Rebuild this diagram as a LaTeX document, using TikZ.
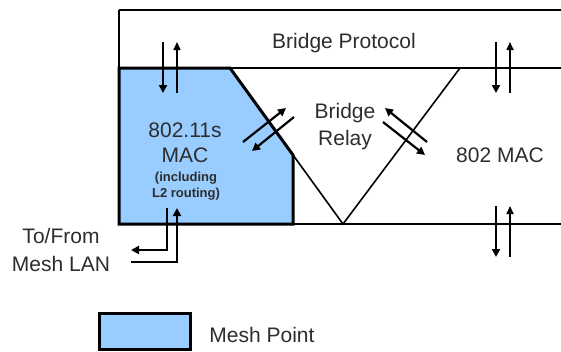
\documentclass[tikz,border=0pt]{standalone}
\usepackage{fontspec}
\setmainfont{Liberation Sans}
\usetikzlibrary{arrows.meta}
\definecolor{MeshBlue}{RGB}{153,204,255}
\definecolor{TextGray}{RGB}{45,45,45}
\tikzset{
  layer/.style={line width=1.6pt},
  meshline/.style={line width=3pt},
  dnar/.style={-{Triangle[length=8pt,width=8pt]}, line width=2.2pt},
  upar/.style={-{Triangle[length=8pt,width=7pt]}, line width=1.6pt},
  lbl/.style={anchor=base, inner sep=0pt, text=TextGray, font=\fontsize{21}{25}\selectfont},
  smalllbl/.style={anchor=base, inner sep=0pt, text=TextGray, font=\fontsize{13}{15}\selectfont\bfseries}
}

\begin{document}
\begin{tikzpicture}[x=1pt,y=-1pt]
  \useasboundingbox (0,0) rectangle (561,351);
  % mesh point part of the MAC layer
  \fill[MeshBlue] (119,68) -- (230,68) -- (293,155) -- (293,224) -- (119,224) -- cycle;
  % layers
  \draw[layer] (119,10) -- (561,10);
  \draw[layer] (119,68) -- (561,68);
  \draw[layer] (119,224) -- (561,224);
  \draw[layer] (119,10) -- (119,224);
  \draw[layer] (230,68) -- (343,224) -- (460,68);
  \draw[meshline] (119,68) -- (230,68) -- (293,155) -- (293,224) -- (119,224) -- cycle;

  % labels
  \node[lbl] (bproto) at (344,48) {Bridge Protocol};
  \node[lbl] (meshmac) at (185,137) {802.11s};
  \node[lbl] (meshmac2) at (185,162) {MAC};
  \node[smalllbl] (incl) at (186,181) {(including};
  \node[smalllbl] (incl2) at (186,197) {L2 routing)};
  \node[lbl] (relay) at (345,118) {Bridge};
  \node[lbl] (relay2) at (345,145) {Relay};
  \node[lbl] (mac) at (500,162) {802 MAC};
  \node[lbl] (lan) at (61,243) {To/From};
  \node[lbl] (lan2) at (61,271) {Mesh LAN};

  % vertical arrow pairs
  \coordinate (bpl) at (170,68);
  \coordinate (bpr) at (503,68);
  \coordinate (lanr) at (503,232);
  \foreach \c in {bpl,bpr,lanr} {
    \draw[dnar] (\c) ++(-7,-26) -- ++(0,51);
    \draw[upar] (\c) ++(7,25) -- ++(0,-51);
  }

  % to/from the mesh LAN
  \coordinate (macout) at (167,208);
  \coordinate (lanout) at (131,250);
  \coordinate (lanin) at (131,262);
  \coordinate (macin) at (177,208);
  \draw[dnar] (macout) |- (lanout);
  \draw[dnar] (lanin) -| (macin);

  % relay arrows
  \coordinate (ml1) at (243,142);
  \coordinate (ml2) at (286,108);
  \coordinate (ml3) at (294,117);
  \coordinate (ml4) at (252,151);
  \coordinate (mr1) at (427,142);
  \coordinate (mr2) at (385,108);
  \coordinate (mr3) at (383,122);
  \coordinate (mr4) at (425,155);
  \draw[dnar] (ml1) -- (ml2);
  \draw[dnar] (ml3) -- (ml4);
  \draw[dnar] (mr1) -- (mr2);
  \draw[dnar] (mr3) -- (mr4);

  % legend
  \node[meshline, draw, fill=MeshBlue, minimum width=91pt, minimum height=36pt, inner sep=0pt] (key) at (145,331) {};
  \node[lbl] (keytext) at (262,342) {Mesh Point};
\end{tikzpicture}
\end{document}
